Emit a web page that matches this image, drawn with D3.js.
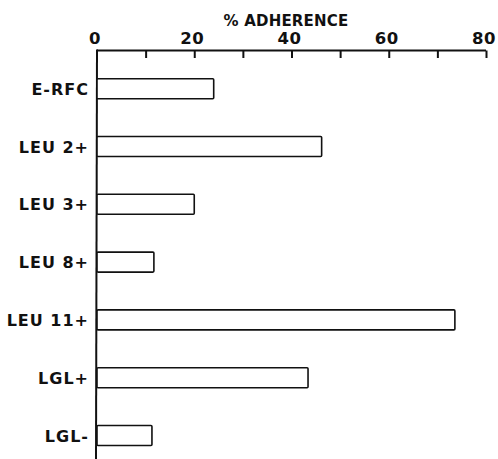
<!DOCTYPE html>
<html><head><meta charset="utf-8">
<script src="https://cdn.jsdelivr.net/npm/d3@7"></script>
<style>body{margin:0;background:#fff}svg{display:block}text{font-family:"DejaVu Sans",sans-serif;font-weight:bold;fill:#111}</style>
</head><body>
<svg id="c" width="498" height="459"></svg>
<script>
const categories = ["E-RFC","LEU 2+","LEU 3+","LEU 8+","LEU 11+","LGL+","LGL-"];
const values = [24, 46.2, 20, 11.7, 73.6, 43.4, 11.3];
const xTicks = [0,10,20,30,40,50,60,70,80];
const xTickLabels = [0,20,40,60,80];
const title = "% ADHERENCE";

const svg = d3.select("#c");
const x = d3.scaleLinear().domain([0,80]).range([97,486]);
const y = d3.scaleBand().domain(categories).range([59.8,464.4]).paddingInner(0.654).paddingOuter(0.327);
const axisY = 50.5;

// top axis
const ax = d3.axisBottom(x).tickValues(xTicks).tickSize(7.5).tickFormat("");
const g = svg.append("g").attr("transform",`translate(0,${axisY})`).call(ax);
g.select(".domain").attr("d",`M${x(0)},0H${x(80)}`).attr("stroke","#111").attr("stroke-width",2);
g.selectAll(".tick line").attr("stroke","#111").attr("stroke-width",2);
g.selectAll(".tick").filter(d=>d===0).remove();

svg.append("g").selectAll("text").data(xTickLabels).join("text")
  .attr("x",d=>x(d)-2).attr("y",44).attr("text-anchor","middle")
  .attr("font-size",16.5).attr("letter-spacing",0.5).text(d=>d);

svg.append("text").attr("x",286).attr("y",25.5).attr("text-anchor","middle")
  .attr("font-size",15).attr("letter-spacing",0.2).text(title);

// left axis line
svg.append("line").attr("x1",x(0)).attr("x2",x(0)-1).attr("y1",axisY-1).attr("y2",459)
  .attr("stroke","#111").attr("stroke-width",2);

// bars
svg.append("g").selectAll("rect").data(categories).join("rect")
  .attr("x",x(0)).attr("y",d=>y(d)).attr("height",y.bandwidth())
  .attr("width",(d,i)=>x(values[i])-x(0)).attr("rx",1)
  .attr("fill","#fff").attr("stroke","#111").attr("stroke-width",1.6);

// category labels
svg.append("g").selectAll("text").data(categories).join("text")
  .attr("x",89).attr("y",d=>y(d)+y.bandwidth()/2+6).attr("text-anchor","end")
  .attr("font-size",16).attr("letter-spacing",1).text(d=>d);
</script>
</body></html>
